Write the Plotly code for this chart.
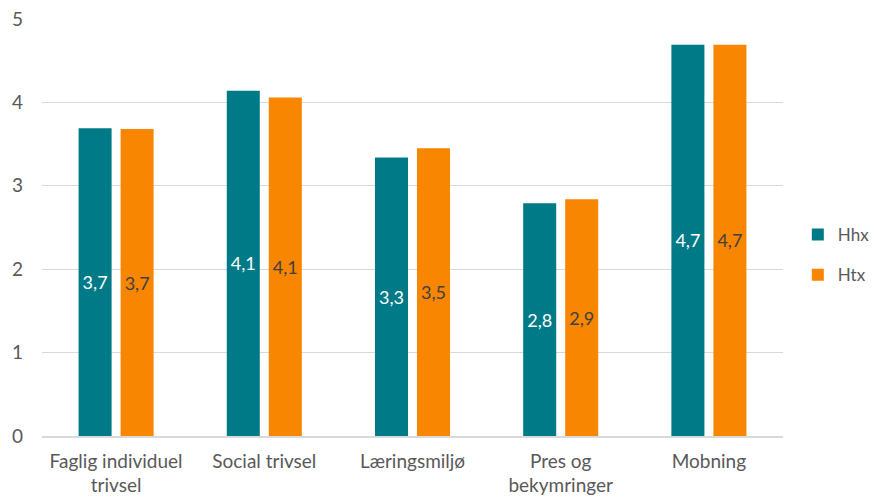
import plotly.graph_objects as go

categories = ["Faglig individuel<br>trivsel", "Social trivsel", "Læringsmiljø", "Pres og<br>bekymringer", "Mobning"]
hhx_values = [3.69, 4.14, 3.34, 2.79, 4.69]
htx_values = [3.68, 4.06, 3.45, 2.84, 4.69]
hhx_labels = ["3,7", "4,1", "3,3", "2,8", "4,7"]
htx_labels = ["3,7", "4,1", "3,5", "2,9", "4,7"]
y_ticks = [0, 1, 2, 3, 4, 5]

TEAL = "#007A87"
ORANGE = "#F98600"
FONT = "Lato, Carlito, Calibri, sans-serif"

fig = go.Figure()
fig.add_trace(go.Bar(
    name="Hhx", x=categories, y=hhx_values, text=hhx_labels,
    textposition="inside", insidetextanchor="middle", textangle=0,
    textfont=dict(color="white", size=18, family=FONT),
    marker=dict(color=TEAL, line=dict(width=0)), legendgroup="a",
))
fig.add_trace(go.Bar(
    name="Htx", x=categories, y=htx_values, text=htx_labels,
    textposition="inside", insidetextanchor="middle", textangle=0,
    textfont=dict(color="#404040", size=18, family=FONT),
    marker=dict(color=ORANGE, line=dict(width=0)), legendgroup="b",
))

fig.update_layout(
    width=875, height=501,
    margin=dict(l=42, r=92, t=19, b=65, autoexpand=False),
    paper_bgcolor="white", plot_bgcolor="white",
    barmode="group", bargap=0.433, bargroupgap=0.214,
    font=dict(family=FONT, size=19, color="#595959"),
    uniformtext=dict(minsize=18, mode="show"),
    legend=dict(x=1.02, y=0.434, xanchor="left", yanchor="middle",
                font=dict(size=17, color="#595959"), tracegroupgap=15,
                bgcolor="rgba(0,0,0,0)"),
    xaxis=dict(showgrid=False, showline=True, linecolor="#d9d9d9", linewidth=1.5,
               ticks="", automargin=False, ticklabelstandoff=7,
               tickfont=dict(size=19, color="#595959")),
    yaxis=dict(range=[0, 5], tickvals=y_ticks, showgrid=True, gridcolor="#d9d9d9",
               gridwidth=1, zeroline=False, showline=False, ticks="",
               automargin=False, ticklabelstandoff=18,
               tickfont=dict(size=19, color="#595959")),
)

fig.write_html("out.html", config={"displayModeBar": False},
               post_script="document.body.style.margin='0';")
